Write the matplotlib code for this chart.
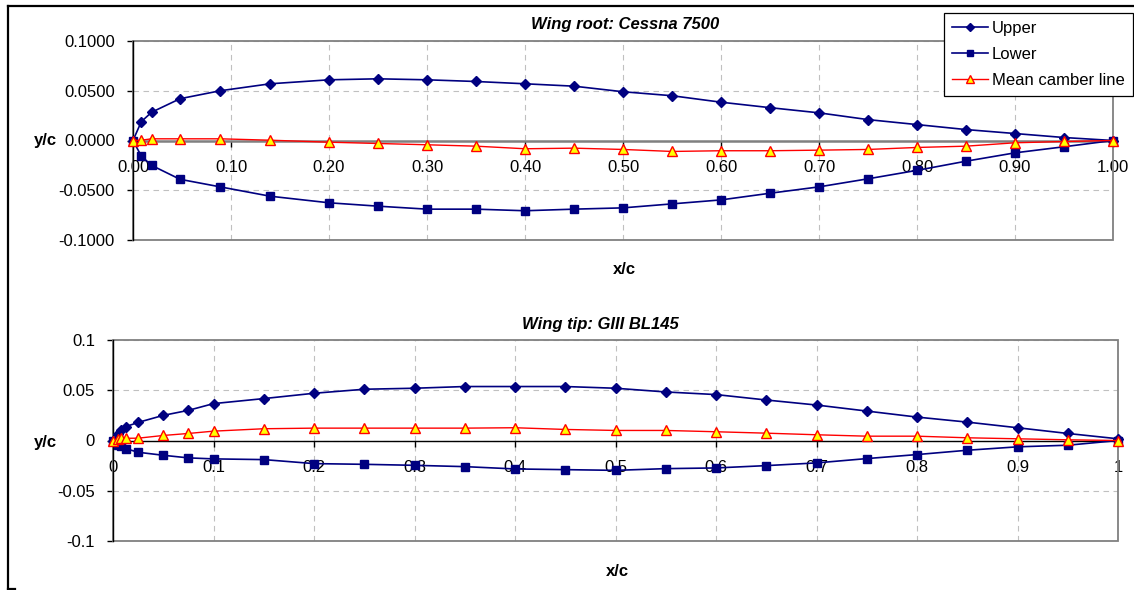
import matplotlib
matplotlib.use('Agg')
import matplotlib.pyplot as plt
from matplotlib.ticker import FuncFormatter
from matplotlib.lines import Line2D
from matplotlib.patches import Rectangle

plt.rcParams['font.family'] = ['Liberation Sans', 'DejaVu Sans']
plt.rcParams['axes.unicode_minus'] = False

# ---------------- data ----------------
root_title = "Wing root: Cessna 7500"
root_x = [0.0, 0.0085, 0.019, 0.048, 0.089, 0.14, 0.20, 0.25, 0.30, 0.35, 0.40, 0.45,
          0.50, 0.55, 0.60, 0.65, 0.70, 0.75, 0.80, 0.85, 0.90, 0.95, 1.00]
root_upper = [0.0, 0.019, 0.0284, 0.042, 0.050, 0.057, 0.061, 0.062, 0.061, 0.0593, 0.057,
              0.0546, 0.049, 0.045, 0.0385, 0.033, 0.0278, 0.021, 0.016, 0.011, 0.007, 0.003, 0.0]
root_lower = [0.0, -0.0157, -0.025, -0.039, -0.0466, -0.056, -0.0626, -0.066, -0.069, -0.069,
              -0.0706, -0.069, -0.0677, -0.0637, -0.0597, -0.053, -0.0466, -0.0385, -0.030,
              -0.0208, -0.0124, -0.0063, 0.0]
root_camber = [0.0, 0.0003, 0.0017, 0.0017, 0.0017, 0.0003, -0.0017, -0.003, -0.0043, -0.0057,
               -0.0083, -0.0077, -0.009, -0.011, -0.0103, -0.0103, -0.0097, -0.009, -0.007,
               -0.0057, -0.0023, -0.001, 0.0]

tip_title = "Wing tip: GIII BL145"
tip_x = [0.0, 0.005, 0.0075, 0.0125, 0.025, 0.05, 0.075, 0.10, 0.15, 0.20, 0.25, 0.30, 0.35,
         0.40, 0.45, 0.50, 0.55, 0.60, 0.65, 0.70, 0.75, 0.80, 0.85, 0.90, 0.95, 1.00]
tip_upper = [0.0, 0.0067, 0.010, 0.0137, 0.018, 0.025, 0.030, 0.0367, 0.0417, 0.047, 0.051,
             0.052, 0.0537, 0.0537, 0.0537, 0.052, 0.0483, 0.0457, 0.0403, 0.0353, 0.0293,
             0.0233, 0.0183, 0.0127, 0.007, 0.0017]
tip_lower = [0.0, -0.004, -0.0055, -0.008, -0.0117, -0.0147, -0.0173, -0.0183, -0.019, -0.023,
             -0.0237, -0.0247, -0.026, -0.0283, -0.029, -0.0297, -0.028, -0.0273, -0.025,
             -0.0223, -0.018, -0.014, -0.0097, -0.0063, -0.0047, 0.0]
tip_camber = [0.0, 0.0015, 0.002, 0.0022, 0.0023, 0.005, 0.007, 0.0093, 0.0117, 0.0123, 0.0123,
              0.0123, 0.0123, 0.0127, 0.011, 0.010, 0.010, 0.0087, 0.0073, 0.0057, 0.0043,
              0.0043, 0.0027, 0.0017, 0.0007, 0.0]

x_ticks = [0.0, 0.1, 0.2, 0.3, 0.4, 0.5, 0.6, 0.7, 0.8, 0.9, 1.0]
y_ticks = [-0.1, -0.05, 0.0, 0.05, 0.1]
series_labels = ["Upper", "Lower", "Mean camber line"]

# ---------------- figure ----------------
W, H = 1134, 590
fig = plt.figure(figsize=(W / 100, H / 100), dpi=100)
FS = 12
NAVY = '#000080'


def fx(x):
    return x / W


def fy(y):
    return 1 - y / H


ax1 = fig.add_axes([fx(133), fy(240), (1113 - 133) / W, (240 - 41) / H])
ax2 = fig.add_axes([fx(113), fy(541), (1118 - 113) / W, (541 - 340) / H])


def style(ax, zero_color, zero_lw, xfmt, yfmt):
    ax.set_xlim(0, 1)
    ax.set_ylim(-0.1, 0.1)
    for s in ['top', 'right']:
        ax.spines[s].set_visible(False)
    ax.add_patch(Rectangle((0, 0), 1, 1, transform=ax.transAxes, fill=False,
                           edgecolor='#808080', lw=1.3, clip_on=False, zorder=0.6))
    ax.spines['left'].set_color('black')
    ax.spines['left'].set_linewidth(1.0)
    ax.spines['left'].set_zorder(2.6)
    ax.spines['bottom'].set_position(('data', 0))
    ax.spines['bottom'].set_color(zero_color)
    ax.spines['bottom'].set_linewidth(zero_lw)
    ax.set_xticks(x_ticks)
    ax.set_yticks(y_ticks)
    ax.xaxis.set_major_formatter(FuncFormatter(xfmt))
    ax.yaxis.set_major_formatter(FuncFormatter(yfmt))
    ax.tick_params(axis='both', direction='out', length=4, width=1, labelsize=FS,
                   colors='black')
    ax.tick_params(axis='x', pad=10)
    ax.tick_params(axis='y', pad=9)
    ax.grid(True, linestyle=(0, (5, 4)), color='#c0c0c0', lw=0.8)
    ax.set_axisbelow(True)


style(ax1, '#808080', 1.8, lambda v, p: f"{v:.2f}", lambda v, p: f"{v:.4f}")
style(ax2, 'black', 1.0, lambda v, p: f"{v:g}", lambda v, p: f"{v:g}")


def draw(ax, x, up, lo, cam):
    h1, = ax.plot(x, up, color=NAVY, lw=1.2, marker='D', ms=5.0, mfc=NAVY, mec=NAVY,
                  clip_on=False, zorder=3, label=series_labels[0])
    h2, = ax.plot(x, lo, color=NAVY, lw=1.2, marker='s', ms=5.5, mfc=NAVY, mec=NAVY,
                  clip_on=False, zorder=3, label=series_labels[1])
    h3, = ax.plot(x, cam, color='#ff0000', lw=1.0, marker='^', ms=7.0, mfc='#ffff00',
                  mec='#ff0000', mew=1.0, clip_on=False, zorder=4, label=series_labels[2])
    return [h1, h2, h3]


handles = draw(ax1, root_x, root_upper, root_lower, root_camber)
draw(ax2, tip_x, tip_upper, tip_lower, tip_camber)

# titles and axis labels
fig.text(fx(625), fy(25), root_title, ha='center', va='center', fontsize=FS,
         fontweight='bold', fontstyle='italic')
fig.text(fx(600), fy(324), tip_title, ha='center', va='center', fontsize=FS,
         fontweight='bold', fontstyle='italic')
fig.text(fx(624), fy(270), "x/c", ha='center', va='center', fontsize=FS, fontweight='bold')
fig.text(fx(617), fy(571), "x/c", ha='center', va='center', fontsize=FS, fontweight='bold')
fig.text(fx(45), fy(141), "y/c", ha='center', va='center', fontsize=FS, fontweight='bold')
fig.text(fx(45), fy(442), "y/c", ha='center', va='center', fontsize=FS, fontweight='bold')

# legend
leg = fig.legend(handles, series_labels, loc='upper right', bbox_to_anchor=(fx(1133), fy(13)),
                 fontsize=FS, frameon=True, fancybox=False, framealpha=1, edgecolor='black',
                 borderaxespad=0, handlelength=2.15, handletextpad=0.25, labelspacing=0.65,
                 borderpad=0.5, markerscale=0.9)
leg.get_frame().set_linewidth(0.9)

# outer chart frame
fig.add_artist(Line2D([fx(8), 1.0], [fy(6), fy(6)], color='black', lw=1.6))
fig.add_artist(Line2D([fx(8), fx(8)], [fy(6), 0.0], color='black', lw=1.6))
fig.add_artist(Line2D([fx(8), fx(15)], [fy(589), fy(589)], color='black', lw=1.6))

fig.savefig('out.png', dpi=100)
